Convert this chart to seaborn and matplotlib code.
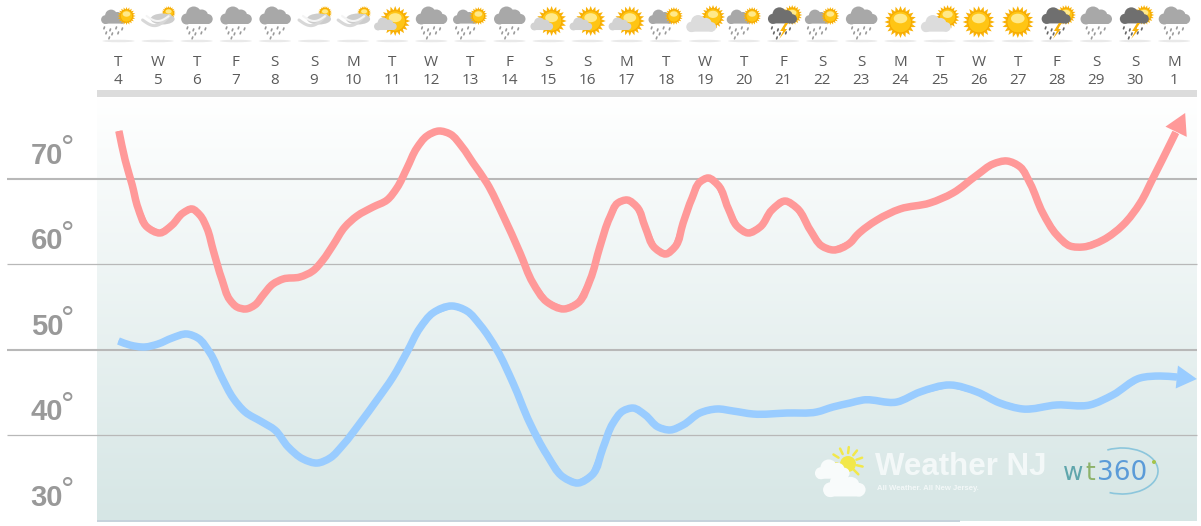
#Temperature outlook chart - 4 week highs and lows with daily weather icons

import numpy as np
import matplotlib
matplotlib.use('Agg')
import matplotlib.pyplot as plt
from matplotlib.patches import Circle, Ellipse, Polygon, Arc, FancyBboxPatch, PathPatch
from matplotlib.path import Path
from matplotlib.colors import LinearSegmentedColormap
import seaborn as sns

# Day header
day_letters = ['T', 'W', 'T', 'F', 'S', 'S', 'M', 'T', 'W', 'T', 'F', 'S', 'S', 'M',
               'T', 'W', 'T', 'F', 'S', 'S', 'M', 'T', 'W', 'T', 'F', 'S', 'S', 'M']
day_numbers = ['4', '5', '6', '7', '8', '9', '10', '11', '12', '13', '14', '15', '16', '17',
               '18', '19', '20', '21', '22', '23', '24', '25', '26', '27', '28', '29', '30', '1']
day_icons = ['sunrain', 'wind', 'rain', 'rain', 'rain', 'wind', 'wind', 'suncloud', 'rain', 'sunrain',
             'rain', 'suncloud', 'suncloud', 'suncloud', 'sunrain', 'partly', 'sunrain', 'storm',
             'sunrain', 'rain', 'sun', 'partly', 'sun', 'sun', 'storm', 'rain', 'storm', 'rain']

temp_ticks = [70, 60, 50, 40, 30]

# High temperature curve
high_days = [0.01, 0.17, 0.35, 0.50, 0.73, 1.06, 1.37, 1.65, 1.88, 2.08, 2.26, 2.42, 2.65, 2.85,
             3.03, 3.26, 3.49, 3.70, 3.95, 4.21, 4.64, 4.97, 5.23, 5.49, 5.79, 6.10, 6.51, 6.87,
             7.12, 7.38, 7.63, 7.89, 8.20, 8.48, 8.79, 9.07, 9.42, 9.83, 10.27, 10.60, 10.96,
             11.39, 11.75, 12.06, 12.31, 12.57, 12.77, 13.01, 13.26, 13.47, 13.72, 14.00, 14.23,
             14.44, 14.67, 14.87, 15.08, 15.33, 15.59, 15.84, 16.10, 16.41, 16.71, 17.05, 17.35,
             17.69, 17.99, 18.27, 18.71, 18.89, 19.40, 19.99, 20.75, 21.34, 21.96, 22.37, 22.72,
             23.06, 23.31, 23.64, 24.00, 24.34, 24.67, 25.18, 25.69, 26.13, 26.46, 26.92, 27.04]
high_temps = [75.62, 72.22, 69.30, 66.60, 64.38, 63.68, 64.61, 66.02, 66.49, 65.78, 64.26, 61.69,
              58.17, 55.83, 55.01, 54.78, 55.25, 56.42, 57.70, 58.29, 58.52, 59.23, 60.52, 62.27,
              64.38, 65.67, 66.72, 67.54, 68.95, 71.29, 73.63, 75.04, 75.62, 75.27, 73.75, 71.87,
              69.53, 65.78, 61.33, 57.82, 55.60, 54.78, 55.48, 58.17, 62.04, 65.55, 67.19, 67.54,
              66.72, 64.38, 61.92, 61.22, 62.04, 64.85, 67.78, 69.65, 70.12, 69.30, 66.60, 64.38,
              63.68, 64.38, 66.37, 67.42, 66.60, 64.03, 62.15, 61.69, 62.51, 63.44, 65.20, 66.49,
              67.19, 68.36, 70.47, 71.76, 72.11, 71.41, 69.53, 66.02, 63.44, 62.15, 62.04, 62.86,
              64.61, 67.19, 70.12, 74.33, 75.45]
high_tip = (27.28, 77.73)

# Low temperature curve
low_days = [0.00, 0.29, 0.68, 1.01, 1.37, 1.75, 2.03, 2.34, 2.65, 2.93, 3.24, 3.67, 4.00, 4.34,
            4.72, 5.08, 5.41, 5.74, 6.18, 6.61, 7.02, 7.38, 7.71, 8.04, 8.53, 8.91, 9.25, 9.68,
            10.09, 10.52, 10.96, 11.37, 11.75, 12.11, 12.39, 12.65, 12.90, 13.16, 13.47, 13.80,
            14.11, 14.44, 14.87, 15.31, 15.72, 16.23, 17.10, 17.86, 18.27, 18.71, 19.04, 19.91,
            20.50, 21.27, 21.96, 22.54, 23.13, 24.00, 24.84, 25.43, 26.13, 26.64, 27.07]
low_temps = [51.03, 50.56, 50.33, 50.68, 51.38, 51.85, 51.38, 49.63, 46.70, 44.36, 42.72, 41.55,
             40.61, 38.62, 37.21, 36.74, 37.33, 38.85, 41.43, 44.12, 46.81, 49.74, 52.55, 54.31,
             55.13, 54.54, 52.90, 49.98, 46.11, 41.43, 37.68, 35.11, 34.40, 35.34, 38.50, 41.43,
             42.83, 43.18, 42.37, 40.96, 40.61, 41.20, 42.60, 43.07, 42.83, 42.48, 42.60, 42.72,
             43.30, 43.77, 44.12, 43.89, 45.06, 45.88, 45.06, 43.77, 43.07, 43.54, 43.54, 44.71,
             46.70, 46.93, 46.81]
low_tip = (27.58, 46.58)

HIGH_COLOR = '#FF9999'
LOW_COLOR = '#99CCFF'

W, H = 1201, 526
STEP_X, ORIGIN_X = 39.1, 118.5
STEP_Y, ORIGIN_Y = 8.54, 179.0


def px_to_day(px):
    return (px - ORIGIN_X) / STEP_X


def py_to_temp(py):
    return 70 - (py - ORIGIN_Y) / STEP_Y


def smooth_stroke(xs, ys):
    # Bezier stroke through the read points, tangents from the neighbours
    pts = np.c_[xs, ys]
    scaled = pts * [STEP_X, STEP_Y]
    t = np.r_[0, np.cumsum(np.hypot(*np.diff(scaled, axis=0).T))]
    tang = np.gradient(pts, t, axis=0)
    verts = [pts[0]]
    codes = [Path.MOVETO]
    for i in range(len(pts) - 1):
        h = (t[i + 1] - t[i]) / 3
        verts += [pts[i] + tang[i] * h, pts[i + 1] - tang[i + 1] * h, pts[i + 1]]
        codes += [Path.CURVE4] * 3
    return Path(verts, codes)


# Icon helpers, drawn on a pixel overlay
def draw_cloud(a, cx, cy, s=1.0, color='#A8A8A8', z=3):
    for dx, dy, r in [(-10, 2, 5.5), (-3, -3, 7.5), (5, -1, 6.5), (11, 2, 5)]:
        a.add_patch(Circle((cx + dx * s, cy + dy * s), r * s, fc=color, ec='none', zorder=z))
    a.add_patch(FancyBboxPatch((cx - 14 * s, cy + 0.5 * s), 28 * s, 6.5 * s, boxstyle='round,pad=0,rounding_size=3',
                               fc=color, ec='none', zorder=z))


def draw_sun(a, cx, cy, r=15.0, z=2):
    n = 20
    ang = np.linspace(0, 2 * np.pi, 2 * n, endpoint=False)
    rad = np.where(np.arange(2 * n) % 2 == 0, r, r * 0.72)
    a.add_patch(Polygon(np.c_[cx + rad * np.cos(ang), cy + rad * np.sin(ang)], fc='#F9B208', ec='none', zorder=z))
    a.add_patch(Circle((cx, cy), r * 0.68, fc='#FFC514', ec='#F5A800', lw=0.6, zorder=z))
    a.add_patch(Ellipse((cx, cy - r * 0.22), r * 0.85, r * 0.6, fc='#FFE98A', ec='none', zorder=z))


def draw_drops(a, cx, cy, color='#9A9A9A'):
    for dx, dy in [(-9, 0), (-3, 2), (3, 0), (9, 1), (-7, 5), (-1, 6), (5, 5), (-4, 10)]:
        a.plot([cx + dx, cx + dx - 0.6], [cy + dy, cy + dy + 1.8], color=color, lw=1.2, zorder=3)


def draw_icon(a, cx, kind):
    a.add_patch(Ellipse((cx, 41), 32, 2.5, fc='#E9E9E9', ec='none', zorder=1))
    if kind == 'rain':
        draw_cloud(a, cx, 17)
        draw_drops(a, cx, 27)
    elif kind == 'sunrain':
        draw_cloud(a, cx - 5, 18, 0.8)
        draw_sun(a, cx + 8, 16, 9, z=4)
        draw_drops(a, cx - 5, 27)
    elif kind == 'sun':
        draw_sun(a, cx, 22, 16)
    elif kind == 'suncloud':
        draw_sun(a, cx + 3, 21, 15)
        draw_cloud(a, cx - 7, 25, 0.72, color='#D2D2D2')
    elif kind == 'partly':
        draw_sun(a, cx + 8, 17, 12)
        draw_cloud(a, cx - 4, 25, 0.95, color='#DCDCDC')
    elif kind == 'storm':
        draw_sun(a, cx + 9, 15, 10)
        draw_cloud(a, cx - 1, 17, 0.92, color='#6F6F6F')
        draw_drops(a, cx - 2, 27, color='#666666')
        a.add_patch(Polygon([(cx + 2, 23), (cx - 3, 31), (cx, 31), (cx - 4, 39), (cx + 4, 29), (cx + 1, 29), (cx + 5, 23)],
                            fc='#F9B208', ec='none', zorder=5))
    elif kind == 'wind':
        draw_sun(a, cx + 11, 13, 7)
        a.add_patch(Ellipse((cx + 5, 19), 24, 11, fc='#CDCDCD', ec='none', zorder=3))
        t = np.linspace(0, 1, 30)
        a.plot(cx - 15 + 27 * t, 20 + 8 * np.sin(t * 3.1) - 5 * t, color='#D8D8D8', lw=2.2, zorder=4)
        a.plot(cx - 11 + 22 * t, 16 + 5 * np.sin(t * 3.1), color='#F4F4F4', lw=1.5, zorder=5)


sns.set_style('white')
fig = plt.figure(figsize=(W / 100, H / 100), dpi=100)

# Main axes fill the whole picture, limits follow the pixel calibration
ax = fig.add_axes([0, 0, 1, 1])
ax.set_xlim(px_to_day(0), px_to_day(W))
ax.set_ylim(py_to_temp(H), py_to_temp(0))
ax.axis('off')

# Gradient background
gradient = LinearSegmentedColormap.from_list('bg', ['#FFFFFF', '#D6E6E5'])
ax.imshow(np.linspace(0, 1, 256).reshape(-1, 1), cmap=gradient, aspect='auto', zorder=0,
          extent=[px_to_day(97), px_to_day(1197), py_to_temp(521), py_to_temp(97)])
ax.set_xlim(px_to_day(0), px_to_day(W))
ax.set_ylim(py_to_temp(H), py_to_temp(0))

# Temperature lines and labels
for t in temp_ticks:
    thick = t in (70, 50)
    if t == 30:
        ax.hlines(t, px_to_day(97), px_to_day(960), color='#C6D2DC', lw=1.4, zorder=1)
    else:
        ax.hlines(t, px_to_day(7), px_to_day(1197), color='#B8B8B8', lw=1.5 if thick else 0.9, zorder=1)
    ax.text(px_to_day(47), t + 2.7, str(t), fontsize=21, fontweight='bold', color='#999999',
            family='Liberation Sans', ha='center', va='center', zorder=2)
    ax.text(px_to_day(68), t + 3.4, '\u00b0', fontsize=24, color='#999999',
            family='Liberation Sans', ha='center', va='center', zorder=2)

# Curves
sns.lineplot(x=high_days, y=high_temps, ax=ax, color=HIGH_COLOR, linewidth=3.5, estimator=None,
             legend=False, zorder=4, solid_capstyle='butt', solid_joinstyle='round')
sns.lineplot(x=low_days, y=low_temps, ax=ax, color=LOW_COLOR, linewidth=3.5, estimator=None,
             legend=False, zorder=4, solid_capstyle='butt', solid_joinstyle='round')

# Smooth the corners of the lines
ax.add_patch(PathPatch(smooth_stroke(high_days, high_temps), fc='none', ec=HIGH_COLOR, lw=5.4,
                       capstyle='butt', zorder=4))
ax.add_patch(PathPatch(smooth_stroke(low_days, low_temps), fc='none', ec=LOW_COLOR, lw=5.4,
                       capstyle='butt', zorder=4))

# Arrow heads
ax.annotate('', xy=high_tip, xytext=(high_days[-1], high_temps[-1]), zorder=5,
            arrowprops=dict(arrowstyle='-|>,head_length=1.5,head_width=0.85', mutation_scale=10,
                            color=HIGH_COLOR, lw=0, shrinkA=0, shrinkB=0))
ax.annotate('', xy=low_tip, xytext=(low_days[-1], low_temps[-1]), zorder=5,
            arrowprops=dict(arrowstyle='-|>,head_length=1.45,head_width=0.83', mutation_scale=10,
                            color=LOW_COLOR, lw=0, shrinkA=0, shrinkB=0))

# Pixel overlay for header and logos
ov = fig.add_axes([0, 0, 1, 1], facecolor='none')
ov.set_xlim(0, W)
ov.set_ylim(H, 0)
ov.axis('off')
ov.fill_between([97, 1197], 90, 97, color='#DCDCDC', lw=0)

for i, (letter, num, kind) in enumerate(zip(day_letters, day_numbers, day_icons)):
    cx = ORIGIN_X + i * STEP_X
    draw_icon(ov, cx, kind)
    ov.text(cx, 62, letter, fontsize=11, color='#5A5A5A', family='Open Sans', ha='center', va='center')
    ov.text(cx, 80, num, fontsize=11, color='#5A5A5A', family='Open Sans', ha='center', va='center')

# Weather NJ logo
ang = np.linspace(np.pi * 1.0, np.pi * 2.25, 8)
for b in ang:
    ov.plot([847 + 10 * np.cos(b), 847 + 16 * np.cos(b)], [463 + 10 * np.sin(b), 463 + 16 * np.sin(b)],
            color='#F2E84A', lw=1.8, zorder=5)
ov.add_patch(Circle((848, 464), 8, fc='#F2E84A', ec='none', zorder=5))
draw_cloud(ov, 832, 471, 1.1, color='#F8FBFB', z=6)
draw_cloud(ov, 844, 487, 1.35, color='#F8FBFB', z=6)
ov.text(875, 467, 'Weather NJ', fontsize=22.5, fontweight='bold', color='#F6FAFA', family='Liberation Sans',
        ha='left', va='center', alpha=0.9, zorder=6)
ov.text(877, 488.5, 'All Weather. All New Jersey.', fontsize=5.6, fontweight='bold', color='#F6FAFA',
        family='Liberation Sans', ha='left', va='center', alpha=0.9, zorder=6)

# wt360 logo
ov.text(1063, 473, 'w', fontsize=18, color='#5FA6AC', family='DejaVu Sans', ha='left', va='center', zorder=6)
ov.text(1085, 473, 't', fontsize=18, color='#8DB26A', family='DejaVu Sans', ha='left', va='center', zorder=6)
ov.text(1097, 473, '360', fontsize=19, color='#5B9BD8', family='DejaVu Sans', ha='left', va='center', zorder=6)
ov.add_patch(Arc((1122, 471), 72, 46, theta1=-125, theta2=120, color='#8CC6DC', lw=1.2, zorder=6))
ov.add_patch(Circle((1154, 462), 2, fc='#A5C44A', ec='none', zorder=6))

fig.savefig('out.png', dpi=100)
